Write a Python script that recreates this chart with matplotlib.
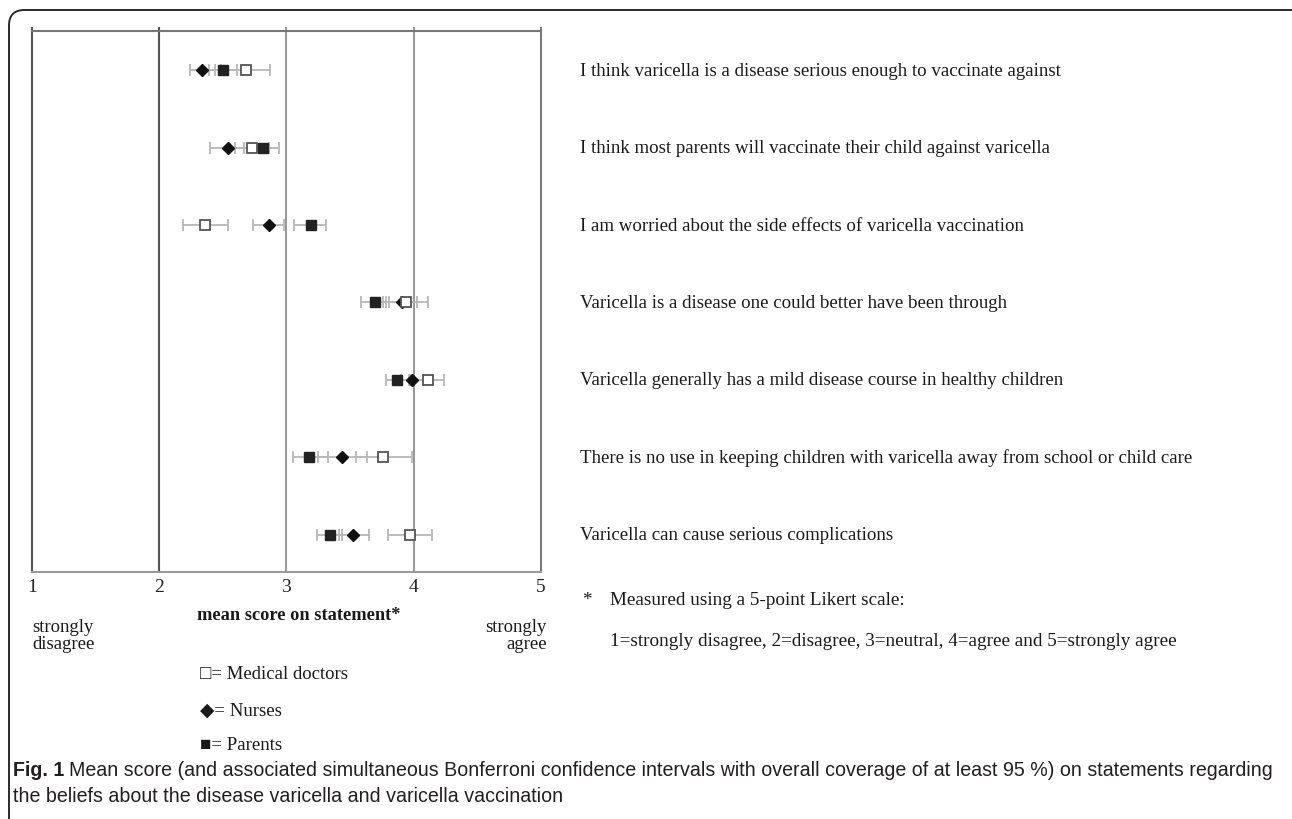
import matplotlib
matplotlib.use("Agg")
import matplotlib.pyplot as plt
import matplotlib.transforms as mtransforms
from matplotlib.patches import FancyBboxPatch

# ---------------- data ----------------
statements = [
    "I think varicella is a disease serious enough to vaccinate against",
    "I think most parents will vaccinate their child against varicella",
    "I am worried about the side effects of varicella vaccination",
    "Varicella is a disease one could better have been through",
    "Varicella generally has a mild disease course in healthy children",
    "There is no use in keeping children with varicella away from school or child care",
    "Varicella can cause serious complications",
]
doctors_mean = [2.68, 2.73, 2.36, 3.94, 4.11, 3.76, 3.97]
doctors_lo   = [2.49, 2.60, 2.19, 3.76, 3.98, 3.55, 3.80]
doctors_hi   = [2.87, 2.86, 2.54, 4.11, 4.24, 3.99, 4.14]
nurses_mean  = [2.34, 2.54, 2.86, 3.91, 3.99, 3.44, 3.52]
nurses_lo    = [2.24, 2.40, 2.74, 3.81, 3.90, 3.25, 3.41]
nurses_hi    = [2.44, 2.67, 2.98, 4.03, 4.08, 3.63, 3.65]
parents_mean = [2.50, 2.82, 3.19, 3.70, 3.87, 3.18, 3.34]
parents_lo   = [2.39, 2.71, 3.06, 3.59, 3.78, 3.05, 3.24]
parents_hi   = [2.61, 2.94, 3.31, 3.78, 3.96, 3.33, 3.44]
x_ticks = [1, 2, 3, 4, 5]

SERIF = ["Liberation Serif", "DejaVu Serif", "DejaVu Sans"]
CAP = ["Liberation Sans Narrow", "Liberation Sans", "DejaVu Sans"]
TXT = "#1a1a1a"

W, H = 1292, 820
fig = plt.figure(figsize=(W / 100, H / 100), dpi=100)

# outer rounded frame (cut at right/bottom edges)
frame = FancyBboxPatch((9 / W, -0.05), 1.2, 1 - 11 / H + 0.05,
                       boxstyle="round,pad=0,rounding_size=0.012",
                       transform=fig.transFigure, fill=False,
                       edgecolor="#2b2b2b", linewidth=1.4, clip_on=False,
                       mutation_aspect=W / H)
fig.patches.append(frame)

ax_left, ax_right = 31.7, 541.0
ax_top, ax_bottom = 28.5, 573.0
ax = fig.add_axes([ax_left / W, 1 - ax_bottom / H,
                   (ax_right - ax_left) / W, (ax_bottom - ax_top) / H])
ax.set_xlim(1, 5)
ax.set_ylim(6.48, -0.55)
for s in ax.spines.values():
    s.set_visible(False)

line_cols = {1: "#555555", 2: "#555555", 3: "#9a9a9a", 4: "#9a9a9a", 5: "#7a7a7a"}
for xv in x_ticks:
    ax.axvline(xv, color=line_cols[xv], lw=1.5, clip_on=False, zorder=1)
top_y = 1 - (31.7 - ax_top) / (ax_bottom - ax_top)
ax.plot([0, 1], [top_y, top_y], transform=ax.transAxes, color="#777777",
        lw=1.5, clip_on=False, zorder=1)
ax.plot([0, 1], [0, 0], transform=ax.transAxes, color="#9a9a9a",
        lw=1.5, clip_on=False, zorder=1)

ax.set_xticks(x_ticks)
ax.set_xticklabels([str(v) for v in x_ticks], fontsize=14, family=SERIF,
                   color="#222222")
ax.tick_params(axis="x", length=0, pad=4)
ax.set_yticks([])

rows = list(range(len(statements)))
eb_kw = dict(fmt="none", ecolor="#b8b8b8", elinewidth=1.3, capsize=4.5,
             capthick=1.3, zorder=2)
for mean, lo, hi in [(nurses_mean, nurses_lo, nurses_hi),
                     (parents_mean, parents_lo, parents_hi),
                     (doctors_mean, doctors_lo, doctors_hi)]:
    err = [[m - l for m, l in zip(mean, lo)], [h - m for m, h in zip(mean, hi)]]
    ax.errorbar(mean, rows, xerr=err, **eb_kw)

ax.plot(nurses_mean, rows, "D", color="#111111", markersize=6, zorder=3,
        linestyle="none")
ax.plot(parents_mean, rows, "s", color="#222222", markersize=6.8, zorder=4,
        linestyle="none")
ax.plot(doctors_mean, rows, "s", markerfacecolor="white",
        markeredgecolor="#555555", markeredgewidth=1.3, markersize=7.2,
        zorder=5, linestyle="none")

# statements on the right
tr = mtransforms.blended_transform_factory(fig.transFigure, ax.transData)
for r, s in zip(rows, statements):
    ax.text(580 / W, r, s, transform=tr, ha="left", va="center",
            fontsize=13.6, family=SERIF, color=TXT, clip_on=False)

# axis labels and anchors
fig.text(299 / W, 1 - 616 / H, "mean score on statement*", ha="center",
         va="center", fontsize=13.2, family=SERIF, weight="bold", color=TXT)
fig.text(32 / W, 1 - 636 / H, "strongly\ndisagree", ha="left", va="center",
         fontsize=13.5, family=SERIF, color=TXT, linespacing=0.95)
fig.text(547 / W, 1 - 636 / H, "strongly\nagree", ha="right", va="center",
         fontsize=13.5, family=SERIF, color=TXT, linespacing=0.95,
         multialignment="right")

# legend
for ytxt, s in [(675, "\u25a1= Medical doctors"), (711, "\u25c6= Nurses"),
                (746, "\u25a0= Parents")]:
    fig.text(200 / W, 1 - ytxt / H, s, ha="left", va="center", fontsize=13.5,
             family=SERIF, color=TXT)

# footnote
fig.text(582 / W, 1 - 601 / H, "*", ha="left", va="center", fontsize=13.8,
         family=SERIF, color=TXT)
fig.text(610 / W, 1 - 601 / H, "Measured using a 5-point Likert scale:",
         ha="left", va="center", fontsize=13.8, family=SERIF, color=TXT)
fig.text(610 / W, 1 - 641 / H,
         "1=strongly disagree, 2=disagree, 3=neutral, 4=agree and 5=strongly agree",
         ha="left", va="center", fontsize=13.8, family=SERIF, color=TXT)

# caption
fig.canvas.draw()
renderer = fig.canvas.get_renderer()
t1 = fig.text(13 / W, 1 - 771 / H, "Fig. 1", ha="left", va="center",
              fontsize=14.1, family=CAP, weight="bold", color="#231f20")
bb = t1.get_window_extent(renderer=renderer)
fig.text((bb.x1 + 5) / W, 1 - 771 / H,
         "Mean score (and associated simultaneous Bonferroni confidence intervals "
         "with overall coverage of at least 95 %) on statements regarding",
         ha="left", va="center", fontsize=14.1, family=CAP, color="#231f20")
fig.text(13 / W, 1 - 797 / H,
         "the beliefs about the disease varicella and varicella vaccination",
         ha="left", va="center", fontsize=14.1, family=CAP, color="#231f20")

fig.savefig("out.png", dpi=100)
